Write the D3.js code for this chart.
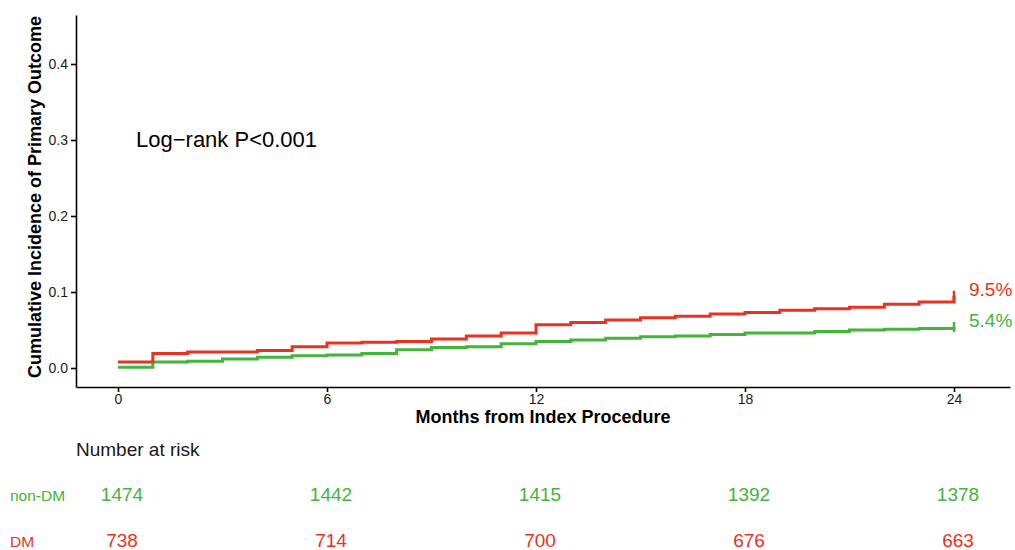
<!DOCTYPE html>
<html>
<head>
<meta charset="utf-8">
<script src="https://cdn.jsdelivr.net/npm/d3@7"></script>
<style>
	body { margin: 0; background: #fff; }
	svg { display: block; font-family: "Liberation Sans", Arial, sans-serif; }
	.axis path, .axis line { stroke: #000; stroke-width: 1.6px; }
	.axis text { font-size: 14px; fill: #1a1a1a; }
</style>
</head>
<body>
<svg id="chart" width="1015" height="550"></svg>
<script>
var months = [0, 1, 2, 3, 4, 5, 6, 7, 8, 9, 10, 11, 12,
	13, 14, 15, 16, 17, 18, 19, 20, 21, 22, 23, 24];

var dmIncidence = [0.008, 0.019, 0.021, 0.021, 0.023, 0.028, 0.033, 0.034, 0.035,
	0.038, 0.042, 0.046, 0.057, 0.060, 0.063, 0.066, 0.068, 0.071, 0.073,
	0.076, 0.078, 0.080, 0.084, 0.087, 0.095];

var nonDmIncidence = [0.001, 0.008, 0.009, 0.012, 0.014, 0.016, 0.017, 0.019, 0.024,
	0.027, 0.028, 0.032, 0.035, 0.037, 0.039, 0.041, 0.042, 0.044, 0.046,
	0.046, 0.048, 0.050, 0.051, 0.052, 0.054];

var xTicks = [0, 6, 12, 18, 24];
var yTicks = [0, 0.1, 0.2, 0.3, 0.4];

var riskTimes = [0, 6, 12, 18, 24];
var nonDmAtRisk = [1474, 1442, 1415, 1392, 1378];
var dmAtRisk = [738, 714, 700, 676, 663];

var endLabels = ["9.5%", "5.4%"];

var red = "#ea3222";
var green = "#44b43b";

var svg = d3.select("#chart");

var x = d3.scaleLinear().domain([0, 24]).range([118, 954]);
var y = d3.scaleLinear().domain([0, 0.4]).range([368, 64]);

// axis scales stretch past the data like the ggplot panel does
var xAxisScale = x.copy().domain([x.invert(76), x.invert(1010)]).range([76, 1010]);
var yAxisScale = y.copy().domain([y.invert(387), y.invert(15)]).range([387, 15]);

svg.append("g")
	.attr("class", "axis x")
	.attr("transform", "translate(0,387)")
	.call(d3.axisBottom(xAxisScale)
		.tickValues(xTicks)
		.tickSize(5)
		.tickSizeOuter(0)
		.tickPadding(2)
		.tickFormat(d3.format("d")));

svg.append("g")
	.attr("class", "axis y")
	.attr("transform", "translate(76,0)")
	.call(d3.axisLeft(yAxisScale)
		.tickValues(yTicks)
		.tickSize(5)
		.tickSizeOuter(0)
		.tickPadding(3)
		.tickFormat(d3.format(".1f")));

svg.append("text")
	.attr("x", 543)
	.attr("y", 423)
	.attr("text-anchor", "middle")
	.attr("font-size", 18)
	.attr("font-weight", "bold")
	.text("Months from Index Procedure");

svg.append("text")
	.attr("transform", "translate(41,197) rotate(-90)")
	.attr("text-anchor", "middle")
	.attr("font-size", 18)
	.attr("font-weight", "bold")
	.text("Cumulative Incidence of Primary Outcome");

svg.append("text")
	.attr("x", 136)
	.attr("y", 147)
	.attr("font-size", 22)
	.text("Log\u2212rank P<0.001");

var stepLine = d3.line()
	.x(function(d){ return x(d[0]); })
	.y(function(d){ return y(d[1]); })
	.curve(d3.curveStepAfter);

var curves = [
	{values: nonDmIncidence, color: green},
	{values: dmIncidence, color: red},
];

curves.forEach(function(c){
	var pts = months.map(function(m, i){ return [m, c.values[i]]; });
	svg.append("path")
		.attr("d", stepLine(pts))
		.attr("fill", "none")
		.attr("stroke", c.color)
		.attr("stroke-width", 3);
	// censor mark at the end of follow-up
	var last = pts[pts.length - 1];
	svg.append("line")
		.attr("x1", x(last[0])).attr("x2", x(last[0]))
		.attr("y1", y(last[1]) - 5).attr("y2", y(last[1]) + 5)
		.attr("stroke", c.color)
		.attr("stroke-width", 2.5);
});

svg.append("text")
	.attr("x", 969)
	.attr("y", 296)
	.attr("font-size", 19)
	.attr("fill", red)
	.text(endLabels[0]);

svg.append("text")
	.attr("x", 969)
	.attr("y", 327)
	.attr("font-size", 19)
	.attr("fill", green)
	.text(endLabels[1]);

// number at risk table
svg.append("text")
	.attr("x", 76)
	.attr("y", 456)
	.attr("font-size", 19)
	.attr("fill", "#1a1a1a")
	.text("Number at risk");

var riskRows = [
	{label: "non-DM", counts: nonDmAtRisk, color: green, y: 501},
	{label: "DM", counts: dmAtRisk, color: red, y: 547},
];

riskRows.forEach(function(row){
	svg.append("text")
		.attr("x", 10)
		.attr("y", row.y)
		.attr("font-size", 15.5)
		.attr("fill", row.color)
		.text(row.label);
	svg.selectAll(null)
		.data(row.counts)
		.enter().append("text")
		.attr("x", function(d, i){ return x(riskTimes[i]) + 4; })
		.attr("y", row.y)
		.attr("text-anchor", "middle")
		.attr("font-size", 19)
		.attr("fill", row.color)
		.text(function(d){ return d; });
});
</script>
</body>
</html>
